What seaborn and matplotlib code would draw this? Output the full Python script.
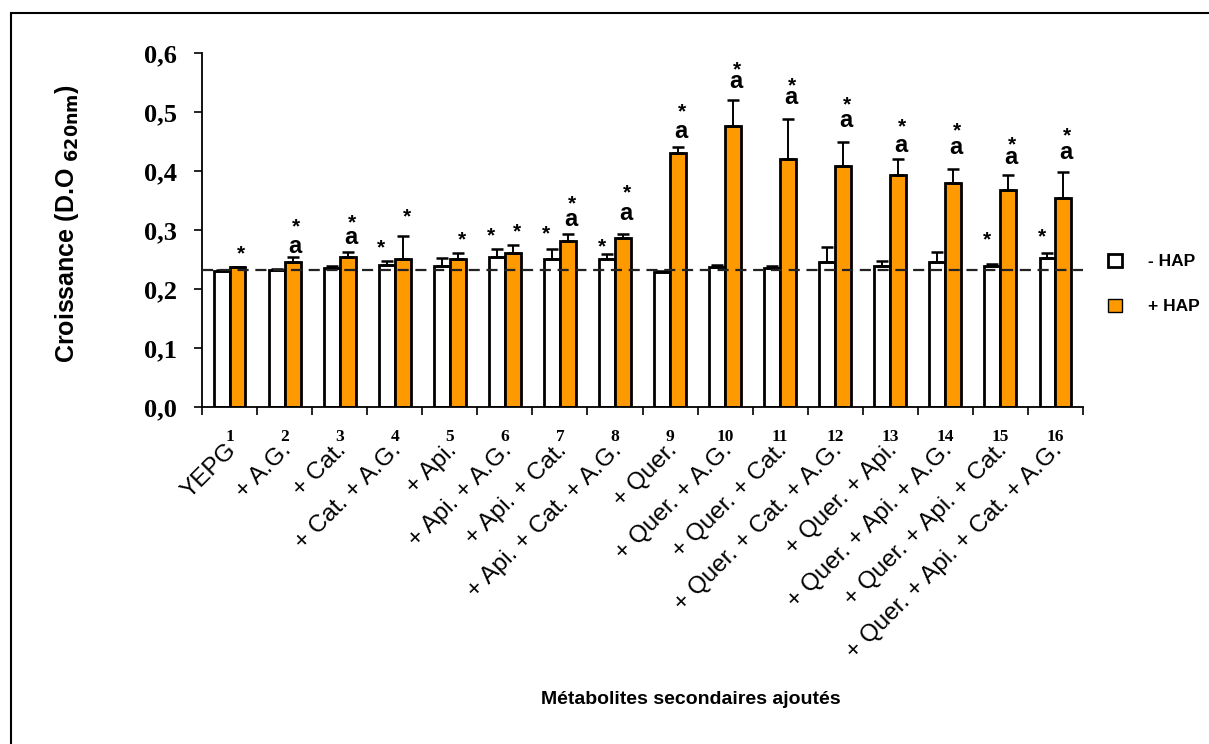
import seaborn as sns
import matplotlib.pyplot as plt
import matplotlib.patches as mpatches
import numpy as np
import pandas as pd

# Données
numeros = [str(i) for i in range(1, 17)]
traitements = ["YEPG", "+ A.G.", "+ Cat.", "+ Cat. + A.G.", "+ Api.", "+ Api. + A.G.",
               "+ Api. + Cat.", "+ Api. + Cat. + A.G.", "+ Quer.", "+ Quer. + A.G.",
               "+ Quer. + Cat.", "+ Quer. + Cat. + A.G.", "+ Quer. + Api.",
               "+ Quer. + Api. + A.G.", "+ Quer. + Api. + Cat.",
               "+ Quer. + Api. + Cat. + A.G."]
sans_hap = [0.230, 0.232, 0.236, 0.240, 0.239, 0.255, 0.251, 0.251,
            0.228, 0.238, 0.236, 0.246, 0.239, 0.246, 0.239, 0.252]
err_sans = [0.003, 0.002, 0.003, 0.008, 0.014, 0.013, 0.017, 0.008,
            0.002, 0.003, 0.003, 0.026, 0.009, 0.016, 0.003, 0.009]
avec_hap = [0.238, 0.246, 0.255, 0.251, 0.251, 0.261, 0.281, 0.287,
            0.430, 0.476, 0.420, 0.408, 0.393, 0.379, 0.368, 0.355]
err_avec = [0.000, 0.009, 0.008, 0.039, 0.010, 0.014, 0.013, 0.007,
            0.011, 0.044, 0.068, 0.042, 0.027, 0.024, 0.025, 0.043]
# position des lettres "a" et des astérisques
lettre_a = [None, 0.272, 0.287, None, None, None, 0.318, 0.328,
            0.467, 0.551, 0.525, 0.486, 0.444, 0.440, 0.423, 0.431]
etoile_avec = [0.269, 0.314, 0.321, 0.331, 0.292, 0.307, 0.354, 0.372,
               0.509, 0.581, 0.553, 0.522, 0.485, 0.478, 0.454, 0.469]
etoile_sans = [None, None, None, 0.280, None, 0.300, 0.303, 0.281,
               None, None, None, None, None, None, 0.293, 0.297]
temoin = 0.232

df = pd.DataFrame({
    "num": numeros * 2,
    "val": sans_hap + avec_hap,
    "hap": ["- HAP"] * 16 + ["+ HAP"] * 16,
})

sns.set_style("white")
plt.rcParams["font.family"] = ["Liberation Sans", "DejaVu Sans"]
plt.rcParams["text.color"] = "black"
plt.rcParams["xtick.color"] = "black"
plt.rcParams["ytick.color"] = "black"
plt.rcParams["axes.labelcolor"] = "black"

fig = plt.figure(figsize=(12.09, 7.44), dpi=100)
ax = fig.add_axes([202 / 1209, 1 - 407 / 744, 881 / 1209, 354 / 744])

orange = "#FF9900"
sns.barplot(data=df, x="num", y="val", hue="hap", hue_order=["- HAP", "+ HAP"],
            palette={"- HAP": "white", "+ HAP": orange}, width=0.58, saturation=1,
            edgecolor="black", linewidth=2.0, errorbar=None, legend=False, ax=ax)

x = np.arange(16)
dx = 0.145
ax.errorbar(x - dx, sans_hap, yerr=[np.zeros(16), err_sans], fmt="none",
            ecolor="black", elinewidth=1.4, capsize=4.5, capthick=1.8, zorder=1)
ax.errorbar(x + dx, avec_hap, yerr=[np.zeros(16), err_avec], fmt="none",
            ecolor="black", elinewidth=1.4, capsize=4.5, capthick=1.8, zorder=1)

ax.axhline(temoin, color="#222222", lw=1.6, ls=(0, (5, 3)), zorder=5)

# annotations : lettres "a" et astérisques
for i in range(16):
    ax.annotate("*", (i + dx + 0.07, etoile_avec[i]), xytext=(0, -8), textcoords="offset points",
                ha="center", va="baseline", fontsize=15, fontweight="bold")
    if lettre_a[i] is not None:
        ax.annotate("a", (i + dx + 0.05, lettre_a[i]), xytext=(0, -4.7), textcoords="offset points",
                    ha="center", va="baseline", fontsize=17, fontweight="bold")
    if etoile_sans[i] is not None:
        ax.annotate("*", (i - dx - 0.1, etoile_sans[i]), xytext=(0, -8), textcoords="offset points",
                    ha="center", va="baseline", fontsize=15, fontweight="bold")

ax.set_xlim(-0.5, 15.5)
ax.set_ylim(0, 0.6)
ax.set_yticks(np.arange(0, 0.61, 0.1))
ax.set_yticklabels([f"{v:.1f}".replace(".", ",") for v in np.arange(0, 0.61, 0.1)],
                   family="Liberation Serif", fontweight="bold", fontsize=19)
ax.set_xticks(np.arange(-0.5, 15.6, 1))
ax.set_xticklabels([])
ax.set_xticks(x, minor=True)
ax.set_xticklabels(numeros, minor=True, family="Liberation Serif", fontweight="bold", fontsize=12.5)
ax.tick_params(axis="x", which="minor", length=0, pad=16)
ax.tick_params(axis="both", which="major", direction="out", length=6, width=1.2, color="black")
ax.tick_params(axis="x", which="major", bottom=True)
ax.tick_params(axis="y", left=True, pad=12)
sns.despine(ax=ax)
for s in ["left", "bottom"]:
    ax.spines[s].set_color("black")
    ax.spines[s].set_linewidth(1.3)

trans = ax.get_xaxis_transform()
for i, t in enumerate(traitements):
    ax.text(i - 0.08, -0.09, t, transform=trans, rotation=45, ha="right", va="top",
            rotation_mode="anchor", fontsize=17.5)

ax.set_xlabel("")
ax.set_ylabel("")
fig.text(67 / 1209, 1 - 224 / 744, r"Croissance (D.O $_{\mathbf{620nm}}$)", rotation=90,
         ha="center", va="center", fontsize=18, fontweight="bold")
fig.text(691 / 1209, 1 - 700 / 744, "Métabolites secondaires ajoutés", ha="center",
         va="center", fontsize=14, fontweight="bold")

handles = [mpatches.Patch(facecolor="white", edgecolor="black", lw=2, label="- HAP"),
           mpatches.Patch(facecolor=orange, edgecolor="black", lw=1, label="+ HAP")]
fig.legend(handles=handles, loc="upper left", bbox_to_anchor=(1092 / 1209, 1 - 238 / 744),
           frameon=False, handlelength=0.8, handleheight=0.8, labelspacing=1.7,
           handletextpad=1.5, prop={"weight": "bold", "size": 12.5})

# cadre autour de la figure
fig.patches.append(mpatches.Rectangle((11 / 1209, -0.01), 1.0, 1 - 13 / 744 + 0.01,
                                      transform=fig.transFigure, fill=False,
                                      edgecolor="black", lw=1.5))

fig.savefig("out.png", dpi=100)
